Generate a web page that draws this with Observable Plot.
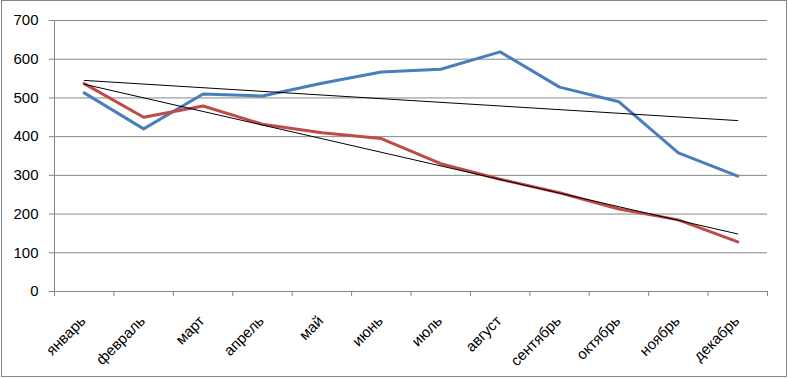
<!DOCTYPE html>
<html>
<head>
<meta charset="utf-8">
<script src="https://cdn.jsdelivr.net/npm/d3@7"></script>
<script src="https://cdn.jsdelivr.net/npm/@observablehq/plot@0.6"></script>
<style>
  html, body { margin: 0; padding: 0; background: #fff; }
  #wrap { position: relative; width: 788px; height: 378px; overflow: hidden; }
  #frame { position: absolute; left: 1px; top: 0; width: 784px; height: 375px; border: 1px solid #868686; pointer-events: none; }
  svg { display: block; }
</style>
</head>
<body>
<div id="wrap"><div id="frame"></div></div>
<script>
const months = ["январь","февраль","март","апрель","май","июнь","июль","август","сентябрь","октябрь","ноябрь","декабрь"];
const seriesBlue = [513, 420, 510, 505, 538, 567, 574, 619, 528, 490, 358, 298];
const seriesRed  = [537, 450, 479, 432, 410, 395, 330, 290, 255, 213, 185, 128];
const yTicks = [0, 100, 200, 300, 400, 500, 600, 700];

const blueData = months.map((m, i) => ({i, m, v: seriesBlue[i]}));
const redData  = months.map((m, i) => ({i, m, v: seriesRed[i]}));
const centers = months.map((_, i) => i);
const boundaries = months.map((_, i) => i - 0.5).concat([months.length - 0.5]);

const grey = "#868686";

const chart = Plot.plot({
  width: 788,
  height: 378,
  marginLeft: 54,
  marginRight: 21,
  marginTop: 20,
  marginBottom: 87,
  x: {domain: [-0.5, months.length - 0.5]},
  y: {domain: [0, 700]},
  style: {fontFamily: "'Liberation Sans', Arial, sans-serif", fontSize: "15px", color: "#000", background: "transparent"},
  marks: [
    Plot.gridY({ticks: yTicks, stroke: grey, strokeOpacity: 1}),
    Plot.ruleX([-0.5], {stroke: grey}),
    Plot.ruleY([0], {stroke: grey}),
    Plot.axisY({ticks: yTicks, tickSize: 5, tickPadding: 11, stroke: grey, label: null, fill: "#000"}),
    Plot.axisX({ticks: boundaries, tickSize: 5, stroke: grey, tickFormat: () => "", label: null}),
    Plot.axisX({ticks: centers, tickSize: 0, tickPadding: 27, dx: -1, tickRotate: -45, tickFormat: (i) => months[i], label: null, fill: "#000"}),
    Plot.line(blueData, {x: "i", y: "v", stroke: "#4a7ebb", strokeWidth: 3}),
    Plot.line(redData, {x: "i", y: "v", stroke: "#be4b48", strokeWidth: 3}),
    Plot.linearRegressionY(blueData, {x: "i", y: "v", ci: 0, stroke: "#000", strokeWidth: 1}),
    Plot.linearRegressionY(redData, {x: "i", y: "v", ci: 0, stroke: "#000", strokeWidth: 1})
  ]
});
document.getElementById("wrap").insertBefore(chart, document.getElementById("frame"));
</script>
</body>
</html>
